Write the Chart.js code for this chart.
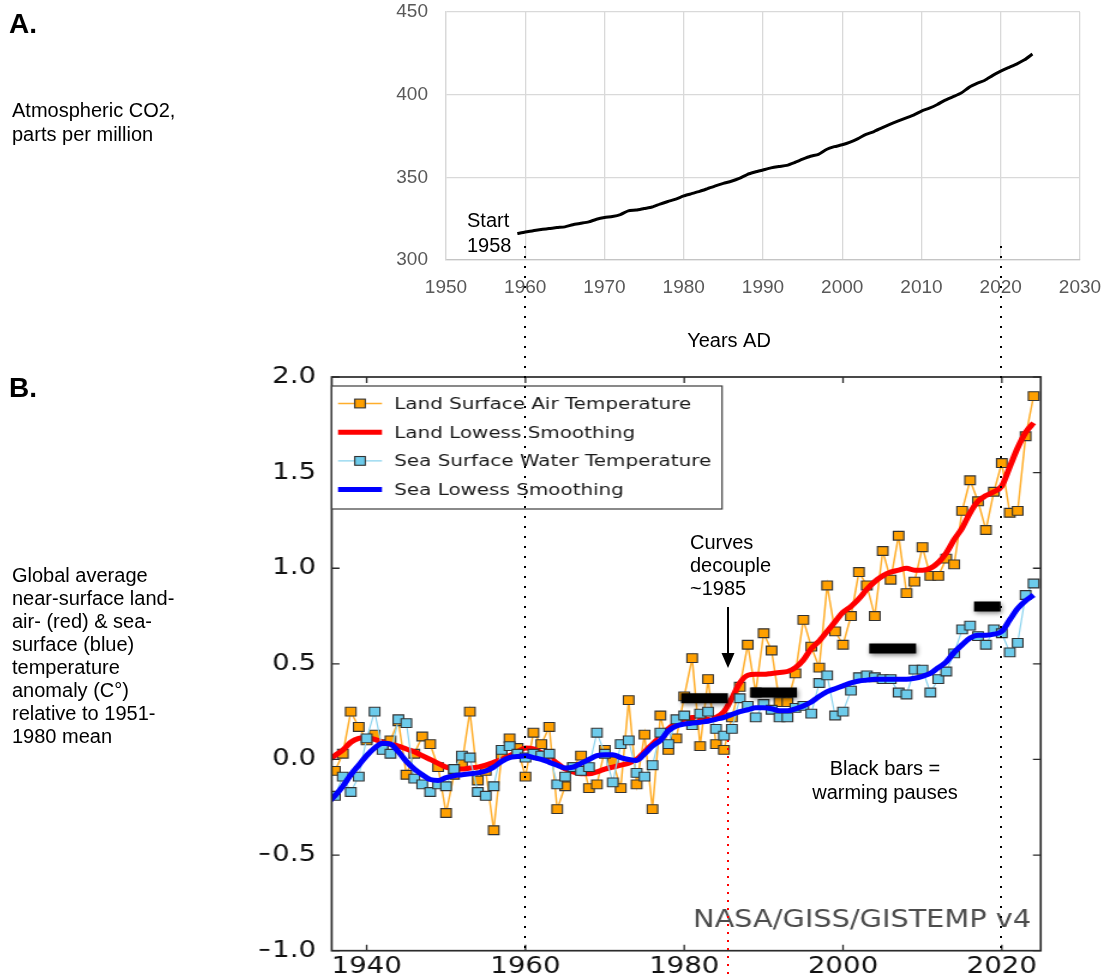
<!DOCTYPE html>
<html>
<head>
<meta charset="utf-8">
<title>Atmospheric CO2 and global surface temperature anomaly</title>
<script src="https://cdn.jsdelivr.net/npm/chart.js@4.4.1/dist/chart.umd.min.js"></script>
<style>
  html, body { margin: 0; padding: 0; background: #fff; }
  #stage { position: relative; width: 1112px; height: 978px; overflow: hidden; background: #fff; }
  /* the GISTEMP panel is a horizontally stretched figure */
  #tempCanvas { position: absolute; left: 0; top: 0; transform-origin: 0 0; transform: scaleX(1.2); }
  #co2Canvas { position: absolute; left: 0; top: 0; pointer-events: none; }
</style>
</head>
<body>
<div id="stage">
  <canvas id="tempCanvas" width="927" height="978"></canvas>
  <canvas id="co2Canvas" width="1112" height="978"></canvas>
</div>
<script>
// ---------- Panel A: Mauna Loa CO2, annual means (ppm) ----------
const co2Years = [
  1959, 1960, 1961, 1962, 1963, 1964, 1965, 1966, 1967, 1968,
  1969, 1970, 1971, 1972, 1973, 1974, 1975, 1976, 1977, 1978,
  1979, 1980, 1981, 1982, 1983, 1984, 1985, 1986, 1987, 1988,
  1989, 1990, 1991, 1992, 1993, 1994, 1995, 1996, 1997, 1998,
  1999, 2000, 2001, 2002, 2003, 2004, 2005, 2006, 2007, 2008,
  2009, 2010, 2011, 2012, 2013, 2014, 2015, 2016, 2017, 2018,
  2019, 2020, 2021, 2022, 2023, 2024
];
const co2Ppm = [
  315.98, 316.91, 317.64, 318.45, 318.99, 319.62, 320.04, 321.37, 322.18, 323.05,
  324.62, 325.68, 326.32, 327.46, 329.68, 330.19, 331.13, 332.03, 333.84, 335.41,
  336.84, 338.76, 340.12, 341.48, 343.15, 344.87, 346.35, 347.61, 349.31, 351.69,
  353.20, 354.45, 355.70, 356.54, 357.21, 358.96, 360.97, 362.74, 363.88, 366.84,
  368.54, 369.71, 371.32, 373.45, 375.98, 377.70, 379.98, 382.09, 384.02, 385.83,
  387.64, 390.10, 391.85, 394.06, 396.74, 398.81, 401.01, 404.41, 406.76, 408.72,
  411.65, 414.21, 416.41, 418.53, 421.08, 424.61
];
const co2YearTicks = [1950, 1960, 1970, 1980, 1990, 2000, 2010, 2020, 2030];
const co2PpmTicks = [300, 350, 400, 450];

// ---------- Panel B: GISTEMP v4 anomalies vs 1951-1980 (°C) ----------
const tempYears = [
  1936, 1937, 1938, 1939, 1940, 1941, 1942, 1943, 1944, 1945,
  1946, 1947, 1948, 1949, 1950, 1951, 1952, 1953, 1954, 1955,
  1956, 1957, 1958, 1959, 1960, 1961, 1962, 1963, 1964, 1965,
  1966, 1967, 1968, 1969, 1970, 1971, 1972, 1973, 1974, 1975,
  1976, 1977, 1978, 1979, 1980, 1981, 1982, 1983, 1984, 1985,
  1986, 1987, 1988, 1989, 1990, 1991, 1992, 1993, 1994, 1995,
  1996, 1997, 1998, 1999, 2000, 2001, 2002, 2003, 2004, 2005,
  2006, 2007, 2008, 2009, 2010, 2011, 2012, 2013, 2014, 2015,
  2016, 2017, 2018, 2019, 2020, 2021, 2022, 2023, 2024
];
const landAnomaly = [
  -0.06, 0.03, 0.25, 0.17, 0.10, 0.13, 0.08, 0.10, 0.20, -0.08,
  0.03, 0.12, 0.08, -0.04, -0.28, -0.08, -0.02, 0.25, -0.11, -0.06,
  -0.37, 0.02, 0.11, 0.06, -0.09, 0.14, 0.08, 0.17, -0.26, -0.14,
  -0.04, 0.02, -0.15, -0.13, 0.05, -0.01, -0.15, 0.31, -0.13, 0.13,
  -0.26, 0.23, 0.05, 0.11, 0.33, 0.53, 0.07, 0.42, 0.08, 0.05,
  0.22, 0.38, 0.60, 0.35, 0.66, 0.57, 0.30, 0.30, 0.45, 0.73,
  0.59, 0.48, 0.91, 0.67, 0.60, 0.75, 0.98, 0.91, 0.75, 1.09,
  0.94, 1.17, 0.87, 0.93, 1.11, 0.96, 0.96, 1.05, 1.02, 1.30,
  1.46, 1.35, 1.20, 1.40, 1.55, 1.29, 1.30, 1.69, 1.90
];
const seaAnomaly = [
  -0.19, -0.09, -0.17, -0.09, 0.11, 0.25, 0.05, 0.03, 0.21, 0.19,
  -0.10, -0.13, -0.17, -0.13, -0.14, -0.05, 0.02, 0.01, -0.17, -0.19,
  -0.14, 0.05, 0.07, 0.03, 0.01, 0.03, 0.02, 0.03, -0.13, -0.09,
  -0.04, -0.06, -0.04, 0.14, 0.03, -0.12, 0.08, 0.10, -0.07, -0.09,
  -0.03, 0.14, 0.08, 0.21, 0.23, 0.18, 0.24, 0.25, 0.16, 0.125,
  0.16, 0.32, 0.28, 0.22, 0.29, 0.26, 0.22, 0.22, 0.27, 0.28,
  0.24, 0.40, 0.44, 0.23, 0.25, 0.36, 0.43, 0.44, 0.43, 0.42,
  0.42, 0.35, 0.34, 0.47, 0.47, 0.35, 0.42, 0.46, 0.555, 0.68,
  0.70, 0.645, 0.60, 0.68, 0.66, 0.56, 0.61, 0.86, 0.92
];
const smoothYears = [
  1935, 1936, 1937, 1938, 1939, 1940, 1941, 1942, 1943, 1944,
  1945, 1946, 1947, 1948, 1949, 1950, 1951, 1952, 1953, 1954,
  1955, 1956, 1957, 1958, 1959, 1960, 1961, 1962, 1963, 1964,
  1965, 1966, 1967, 1968, 1969, 1970, 1971, 1972, 1973, 1974,
  1975, 1976, 1977, 1978, 1979, 1980, 1981, 1982, 1983, 1984,
  1985, 1986, 1987, 1988, 1989, 1990, 1991, 1992, 1993, 1994,
  1995, 1996, 1997, 1998, 1999, 2000, 2001, 2002, 2003, 2004,
  2005, 2006, 2007, 2008, 2009, 2010, 2011, 2012, 2013, 2014,
  2015, 2016, 2017, 2018, 2019, 2020, 2021, 2022, 2023, 2024
];
const landLowess = [
  -0.01, 0.02, 0.05, 0.09, 0.11, 0.115, 0.105, 0.09, 0.08, 0.07,
  0.055, 0.04, 0.02, 0.00, -0.02, -0.04, -0.05, -0.05, -0.045, -0.04,
  -0.03, -0.015, 0.00, 0.02, 0.04, 0.06, 0.055, 0.035, 0.01, -0.02,
  -0.05, -0.065, -0.075, -0.075, -0.065, -0.05, -0.04, -0.03, -0.02, 0.00,
  0.04, 0.08, 0.12, 0.16, 0.19, 0.21, 0.22, 0.22, 0.21, 0.22,
  0.25, 0.32, 0.40, 0.44, 0.445, 0.445, 0.45, 0.455, 0.46, 0.48,
  0.52, 0.58, 0.62, 0.67, 0.72, 0.77, 0.80, 0.84, 0.89, 0.93,
  0.96, 0.98, 0.99, 1.00, 0.99, 0.99, 1.00, 1.03, 1.08, 1.15,
  1.21, 1.29, 1.35, 1.38, 1.40, 1.43, 1.53, 1.63, 1.71, 1.76
];
const seaLowess = [
  -0.23, -0.19, -0.14, -0.08, -0.03, 0.02, 0.06, 0.085, 0.08, 0.04,
  -0.01, -0.05, -0.08, -0.105, -0.11, -0.095, -0.085, -0.08, -0.075, -0.07,
  -0.06, -0.04, -0.01, 0.01, 0.015, 0.02, 0.01, 0.00, -0.015, -0.03,
  -0.045, -0.04, -0.02, 0.00, 0.02, 0.025, 0.025, 0.01, 0.00, -0.005,
  0.03, 0.07, 0.10, 0.15, 0.175, 0.185, 0.19, 0.195, 0.20, 0.21,
  0.22, 0.235, 0.25, 0.26, 0.27, 0.27, 0.265, 0.255, 0.255, 0.265,
  0.28, 0.30, 0.33, 0.355, 0.37, 0.385, 0.40, 0.41, 0.415, 0.42,
  0.42, 0.42, 0.42, 0.42, 0.425, 0.435, 0.45, 0.48, 0.51, 0.56,
  0.60, 0.635, 0.65, 0.65, 0.655, 0.67, 0.73, 0.79, 0.83, 0.86
];
const tempYearTicks = [1940, 1960, 1980, 2000, 2020];
const anomalyTicks = [-1.0, -0.5, 0.0, 0.5, 1.0, 1.5, 2.0];

// warming pauses (start year, end year, level in °C)
const pauseStart = [1979.6, 1988.4, 2003.3, 2016.5];
const pauseEnd   = [1985.5, 1994.2, 2009.2, 2019.85];
const pauseLevel = [0.32, 0.35, 0.58, 0.80];

// reference years marked by dotted guides
const guideYears = [1960, 2020];
const decoupleYear = 1985.5;

// text blocks
const panelANote = ['Atmospheric CO2,', 'parts per million'];
const panelBNote = ['Global average', 'near-surface land-', 'air- (red) & sea-', 'surface (blue)',
                    'temperature', 'anomaly (C\u00b0)', 'relative to 1951-', '1980 mean'];
const startNote = ['Start', '1958'];
const decoupleNote = ['Curves', 'decouple', '~1985'];
const pauseNote = ['Black bars =', 'warming pauses'];

const STRETCH = 1.2;   // horizontal stretch of the temperature panel
const toPoints = (xs, ys) => xs.map((x, i) => ({ x, y: ys[i] }));

// fixed axis box sizes; edge labels must not push the plot area inwards
const fixBox = (size) => (s) => {
  if (s.isHorizontal()) s.height = size; else s.width = size;
  s.paddingTop = 0; s.paddingBottom = 0; s.paddingLeft = 0; s.paddingRight = 0;
};

// ---------- plugins for the temperature panel ----------
const axesFrame = {
  id: 'axesFrame',
  afterDatasetsDraw(chart) {
    const { ctx, chartArea: a, scales: { x, y } } = chart;
    ctx.save();
    ctx.strokeStyle = '#2b2b2b';
    ctx.lineWidth = 1.7;
    ctx.strokeRect(a.left, a.top, a.right - a.left, a.bottom - a.top);
    ctx.lineWidth = 1.3;
    ctx.beginPath();
    x.ticks.forEach(t => {
      const px = x.getPixelForValue(t.value);
      ctx.moveTo(px, a.bottom); ctx.lineTo(px, a.bottom - 6);
      ctx.moveTo(px, a.top); ctx.lineTo(px, a.top + 6);
    });
    y.ticks.forEach(t => {
      const py = y.getPixelForValue(t.value);
      ctx.moveTo(a.left, py); ctx.lineTo(a.left + 6.5, py);
      ctx.moveTo(a.right, py); ctx.lineTo(a.right - 6.5, py);
    });
    ctx.stroke();
    // data credit
    ctx.font = '24px "DejaVu Sans"';
    ctx.fillStyle = '#4d4d4d';
    ctx.textAlign = 'left';
    ctx.textBaseline = 'alphabetic';
    ctx.fillText('NASA/GISS/GISTEMP v4', 577.5, 927);
    ctx.restore();
  }
};

const pauseShadow = {
  id: 'pauseShadow',
  beforeDatasetDraw(chart, args) {
    if (!chart.data.datasets[args.index].isPause) return;
    const ctx = chart.ctx;
    ctx.save();
    ctx.shadowColor = 'rgba(0,0,0,0.45)';
    ctx.shadowBlur = 4;
    ctx.shadowOffsetX = 1;
    ctx.shadowOffsetY = 2;
  },
  afterDatasetDraw(chart, args) {
    if (!chart.data.datasets[args.index].isPause) return;
    chart.ctx.restore();
  }
};

const legendBox = {
  id: 'legendBox',
  afterDraw(chart, args, o) {
    const { ctx, chartArea } = chart;
    const x0 = chartArea.left;
    ctx.save();
    ctx.fillStyle = '#fff';
    ctx.fillRect(x0, o.top, o.right - x0, o.bottom - o.top);
    ctx.strokeStyle = '#3c3c3c';
    ctx.lineWidth = 1.2;
    ctx.strokeRect(x0, o.top, o.right - x0, o.bottom - o.top);
    ctx.font = o.fontSize + 'px "DejaVu Sans"';
    ctx.textBaseline = 'middle';
    ctx.textAlign = 'left';
    chart.data.datasets.filter(d => !d.isPause).forEach((ds, i) => {
      const y = o.rowTop + i * o.rowStep;
      ctx.strokeStyle = ds.borderColor;
      ctx.lineWidth = ds.borderWidth;
      ctx.beginPath();
      ctx.moveTo(o.lineStart, y);
      ctx.lineTo(o.lineEnd, y);
      ctx.stroke();
      if (ds.pointRadius > 0) {
        const h = ds.pointRadius * Math.SQRT1_2;
        const mx = (o.lineStart + o.lineEnd) / 2;
        ctx.fillStyle = ds.pointBackgroundColor;
        ctx.fillRect(mx - h, y - h, 2 * h, 2 * h);
        ctx.strokeStyle = ds.pointBorderColor;
        ctx.lineWidth = ds.pointBorderWidth;
        ctx.strokeRect(mx - h, y - h, 2 * h, 2 * h);
      }
      ctx.fillStyle = '#1a1a1a';
      ctx.fillText(ds.label, o.textX, y + 1);
    });
    ctx.restore();
  }
};

const pauseSets = pauseStart.map((s, i) => ({
  label: 'pause',
  isPause: true,
  data: [{ x: s, y: pauseLevel[i] }, { x: pauseEnd[i], y: pauseLevel[i] }],
  borderColor: '#000',
  borderWidth: 10,
  borderCapStyle: 'butt',
  pointRadius: 0,
  order: 0
}));

const tempChart = new Chart(document.getElementById('tempCanvas'), {
  type: 'line',
  data: {
    datasets: [
      {
        label: 'Land Surface Air Temperature',
        data: toPoints(tempYears, landAnomaly),
        borderColor: 'rgba(255,165,20,0.9)',
        borderWidth: 1.5,
        pointStyle: 'rect',
        pointRadius: 6.2,
        pointBackgroundColor: '#ffa000',
        pointBorderColor: '#333',
        pointBorderWidth: 1.1,
        tension: 0,
        order: 4
      },
      {
        label: 'Land Lowess Smoothing',
        data: toPoints(smoothYears, landLowess),
        borderColor: '#ff0000',
        borderWidth: 5,
        pointRadius: 0,
        cubicInterpolationMode: 'monotone',
        clip: 0,
        order: 3
      },
      {
        label: 'Sea Surface Water Temperature',
        data: toPoints(tempYears, seaAnomaly),
        borderColor: '#8ad3ee',
        borderWidth: 1.2,
        pointStyle: 'rect',
        pointRadius: 6.2,
        pointBackgroundColor: '#6ccbeb',
        pointBorderColor: '#333',
        pointBorderWidth: 1.1,
        tension: 0,
        order: 2
      },
      {
        label: 'Sea Lowess Smoothing',
        data: toPoints(smoothYears, seaLowess),
        borderColor: '#0000ff',
        borderWidth: 5,
        pointRadius: 0,
        cubicInterpolationMode: 'monotone',
        clip: 0,
        order: 1
      },
      ...pauseSets
    ]
  },
  options: {
    responsive: false,
    animation: false,
    devicePixelRatio: 1,
    layout: { padding: { left: 216.42, right: 59.75, top: 377, bottom: 0 } },
    plugins: {
      legend: { display: false },
      tooltip: { enabled: false },
      legendBox: { top: 386, bottom: 509, right: 601.7, rowTop: 403.5, rowStep: 28.7,
                   lineStart: 281.7, lineEnd: 318.3, textX: 328.5, fontSize: 16.6 }
    },
    scales: {
      x: {
        type: 'linear', min: 1935.6, max: 2024.9,
        afterBuildTicks: s => { s.ticks = tempYearTicks.map(v => ({ value: v })); },
        afterFit: fixBox(27.3),
        grid: { display: false, drawTicks: false },
        border: { display: false },
        ticks: { padding: 2.5, color: '#111', maxRotation: 0, autoSkip: false,
                 font: { family: 'DejaVu Sans', size: 23 }, callback: v => String(v) }
      },
      y: {
        min: -1, max: 2,
        afterBuildTicks: s => { s.ticks = anomalyTicks.map(v => ({ value: v })); },
        afterFit: fixBox(60),
        grid: { display: false, drawTicks: false },
        border: { display: false },
        ticks: { padding: 13, color: '#111', autoSkip: false,
                 font: { family: 'DejaVu Sans', size: 23 },
                 callback: v => Number(v).toFixed(1).replace('-', '\u2212') }
      }
    }
  },
  plugins: [pauseShadow, axesFrame, legendBox]
});

// ---------- overlay annotations drawn with the CO2 panel ----------
const pageNotes = {
  id: 'pageNotes',
  afterDraw(chart) {
    const ctx = chart.ctx;
    const xA = chart.scales.x;
    const bottomB = tempChart.chartArea.bottom;
    ctx.save();

    // dotted guides linking the two panels
    ctx.lineWidth = 2;
    ctx.strokeStyle = '#000';
    ctx.setLineDash([2, 8]);
    guideYears.forEach(yr => {
      const px = Math.round(xA.getPixelForValue(yr));
      ctx.beginPath();
      ctx.moveTo(px, chart.chartArea.bottom - 14);
      ctx.lineTo(px, bottomB + 5);
      ctx.stroke();
    });

    // red dotted marker at the decoupling year
    const dx = Math.round(tempChart.scales.x.getPixelForValue(decoupleYear) * STRETCH);
    ctx.strokeStyle = '#ff0000';
    ctx.setLineDash([2, 6]);
    ctx.beginPath();
    ctx.moveTo(dx, 740);
    ctx.lineTo(dx, 978);
    ctx.stroke();
    ctx.setLineDash([]);

    // arrow pointing at the decoupling
    ctx.strokeStyle = '#000';
    ctx.lineWidth = 2;
    ctx.beginPath();
    ctx.moveTo(dx, 607);
    ctx.lineTo(dx, 656);
    ctx.stroke();
    ctx.fillStyle = '#000';
    ctx.beginPath();
    ctx.moveTo(dx - 6.5, 653);
    ctx.lineTo(dx + 6.5, 653);
    ctx.lineTo(dx, 668);
    ctx.closePath();
    ctx.fill();

    // panel letters
    ctx.textAlign = 'left';
    ctx.textBaseline = 'alphabetic';
    ctx.font = 'bold 28px "Liberation Sans"';
    ctx.fillText('A.', 9, 33);
    ctx.fillText('B.', 9, 397);

    // descriptive text
    ctx.font = '20px "Liberation Sans"';
    panelANote.forEach((t, i) => ctx.fillText(t, 12, 117 + i * 24));
    panelBNote.forEach((t, i) => ctx.fillText(t, 12, 582 + i * 23));
    startNote.forEach((t, i) => ctx.fillText(t, 467, 227 + i * 25));
    decoupleNote.forEach((t, i) => ctx.fillText(t, 690, 549 + i * 23));
    ctx.textAlign = 'center';
    pauseNote.forEach((t, i) => ctx.fillText(t, 885, 775 + i * 24));
    ctx.fillText('Years AD', 729, 347);
    ctx.restore();
  }
};

const co2Chart = new Chart(document.getElementById('co2Canvas'), {
  type: 'line',
  data: {
    datasets: [{
      label: 'CO2 (ppm)',
      data: toPoints(co2Years, co2Ppm),
      borderColor: '#000',
      borderWidth: 3,
      pointRadius: 0,
      tension: 0.2,
      fill: false
    }]
  },
  options: {
    responsive: false,
    animation: false,
    devicePixelRatio: 1,
    layout: { padding: { left: 386, right: 32, top: 12, bottom: 678 } },
    plugins: { legend: { display: false }, tooltip: { enabled: false } },
    scales: {
      x: {
        type: 'linear', min: 1950, max: 2030,
        afterBuildTicks: s => { s.ticks = co2YearTicks.map(v => ({ value: v })); },
        afterFit: fixBox(40),
        grid: { color: '#d9d9d9', lineWidth: 1.3, drawTicks: false },
        border: { color: '#c4c4c4', width: 1.3 },
        ticks: { padding: 16, color: '#595959', maxRotation: 0, autoSkip: false,
                 font: { family: 'Liberation Sans', size: 19 }, callback: v => String(v) }
      },
      y: {
        min: 300, max: 450,
        afterBuildTicks: s => { s.ticks = co2PpmTicks.map(v => ({ value: v })); },
        afterFit: fixBox(60),
        grid: { color: '#d9d9d9', lineWidth: 1.3, drawTicks: false },
        border: { color: '#d9d9d9', width: 1.3 },
        ticks: { padding: 18, color: '#595959', autoSkip: false,
                 font: { family: 'Liberation Sans', size: 19 }, callback: v => String(v) }
      }
    }
  },
  plugins: [pageNotes]
});
</script>
</body>
</html>
